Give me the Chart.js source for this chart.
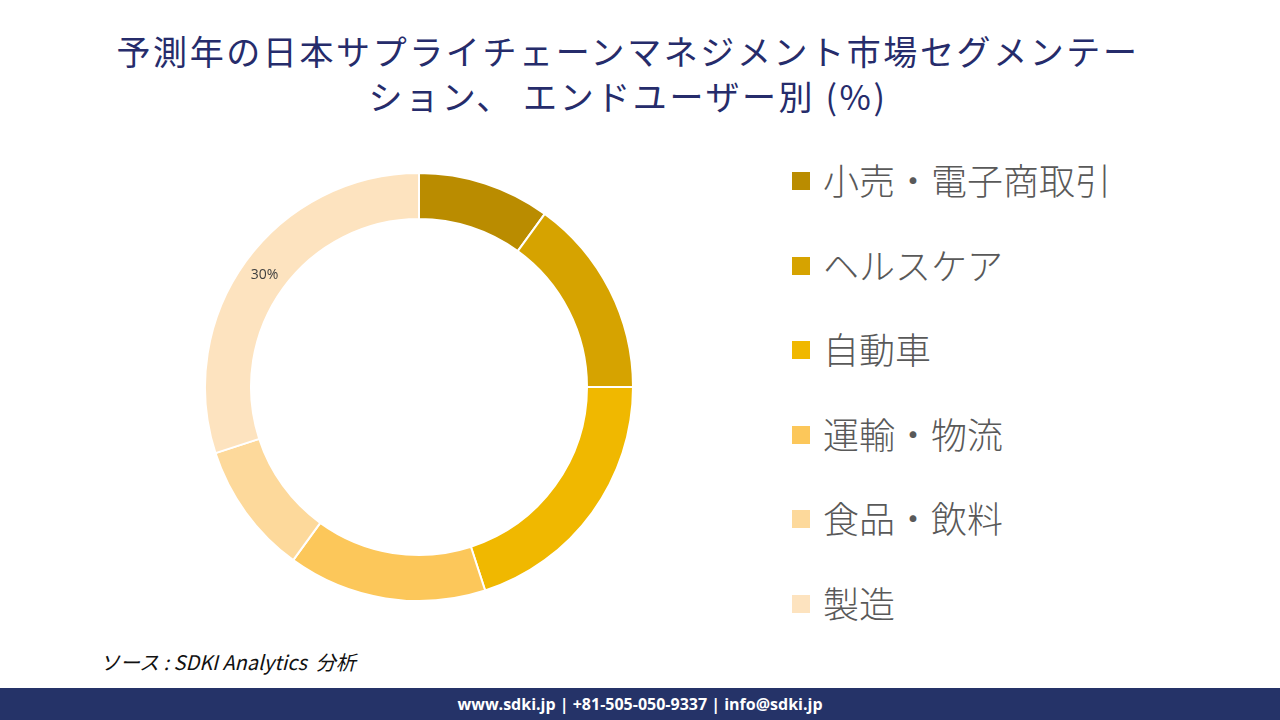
<!DOCTYPE html>
<html lang="ja">
<head>
<meta charset="utf-8">
<script src="https://cdn.jsdelivr.net/npm/chart.js@4.4.1/dist/chart.umd.min.js"></script>
<style>
  html, body { margin: 0; padding: 0; background: #fff; }
  body { width: 1280px; height: 720px; position: relative; overflow: hidden; font-family: "Noto Sans CJK JP", sans-serif; }
  #title { position: absolute; left: 0; top: 28px; width: 1256px; text-align: center; color: #262c6b; font-size: 34px; letter-spacing: 2.6px; line-height: 45px; }
  #chartBox { position: absolute; left: 204px; top: 172px; width: 430px; height: 430px; }
  #legend { position: absolute; left: 792px; top: 154px; margin: 0; padding: 0; list-style: none; }
  #legend li { height: 84.5px; display: flex; align-items: flex-start; color: #595959; font-size: 36px; font-weight: 300; line-height: 50px; }
  #legend .box { width: 18px; height: 18px; margin-top: 18px; margin-right: 13px; flex: none; }
  #source { position: absolute; left: 100px; top: 647px; font-size: 20px; font-style: italic; color: #111; white-space: pre; }
  #footer { position: absolute; left: 0; top: 688px; width: 1280px; height: 32px; background: #253368; color: #fff; text-align: center; font: bold 16px "Open Sans", "DejaVu Sans", sans-serif; line-height: 32px; }
</style>
</head>
<body>
<div id="title">予測年の日本サプライチェーンマネジメント市場セグメンテー<br>ション、 エンドユーザー別 (%)</div>
<div id="chartBox"><canvas id="donutChart"></canvas></div>
<ul id="legend"></ul>
<div id="source">ソース : SDKI Analytics  分析</div>
<div id="footer">www.sdki.jp | +81-505-050-9337 | info@sdki.jp</div>
<script>
const labels = ['小売・電子商取引', 'ヘルスケア', '自動車', '運輸・物流', '食品・飲料', '製造'];
const shares = [10, 15, 20, 15, 10, 30];
const colors = ['#ba8c00', '#d6a300', '#f0b800', '#fcc75a', '#fdd99b', '#fde3bf'];

// build legend from the same arrays
const legendEl = document.getElementById('legend');
labels.forEach(function (label, i) {
    const li = document.createElement('li');
    li.innerHTML = '<span class="box" style="background:' + colors[i] + '"></span>' + label;
    legendEl.appendChild(li);
});

// Draw percentage label only on the biggest slice
const maxLabelPlugin = {
    id: 'maxLabel',
    afterDatasetsDraw(chart) {
        const ctx = chart.ctx;
        const data = chart.data.datasets[0].data;
        const maxIdx = data.indexOf(Math.max.apply(null, data));
        const arc = chart.getDatasetMeta(0).data[maxIdx];
        const pos = arc.tooltipPosition();
        ctx.save();
        ctx.font = '14px "Open Sans", "Noto Sans", sans-serif';
        ctx.fillStyle = '#404040';
        ctx.textAlign = 'center';
        ctx.textBaseline = 'middle';
        ctx.fillText(data[maxIdx] + '%', pos.x, pos.y);
        ctx.restore();
    }
};

var ctxDonut = document.getElementById('donutChart').getContext('2d');
var donutChart = new Chart(ctxDonut, {
    type: 'doughnut',
    data: {
        labels: labels,
        datasets: [{
            data: shares,
            backgroundColor: colors,
            borderColor: '#ffffff',
            borderWidth: 2
        }]
    },
    options: {
        responsive: true,
        maintainAspectRatio: false,
        animation: false,
        cutout: '78.5%',
        layout: { padding: 0 },
        plugins: {
            legend: { display: false },
            tooltip: { enabled: false }
        }
    },
    plugins: [maxLabelPlugin]
});
</script>
</body>
</html>
